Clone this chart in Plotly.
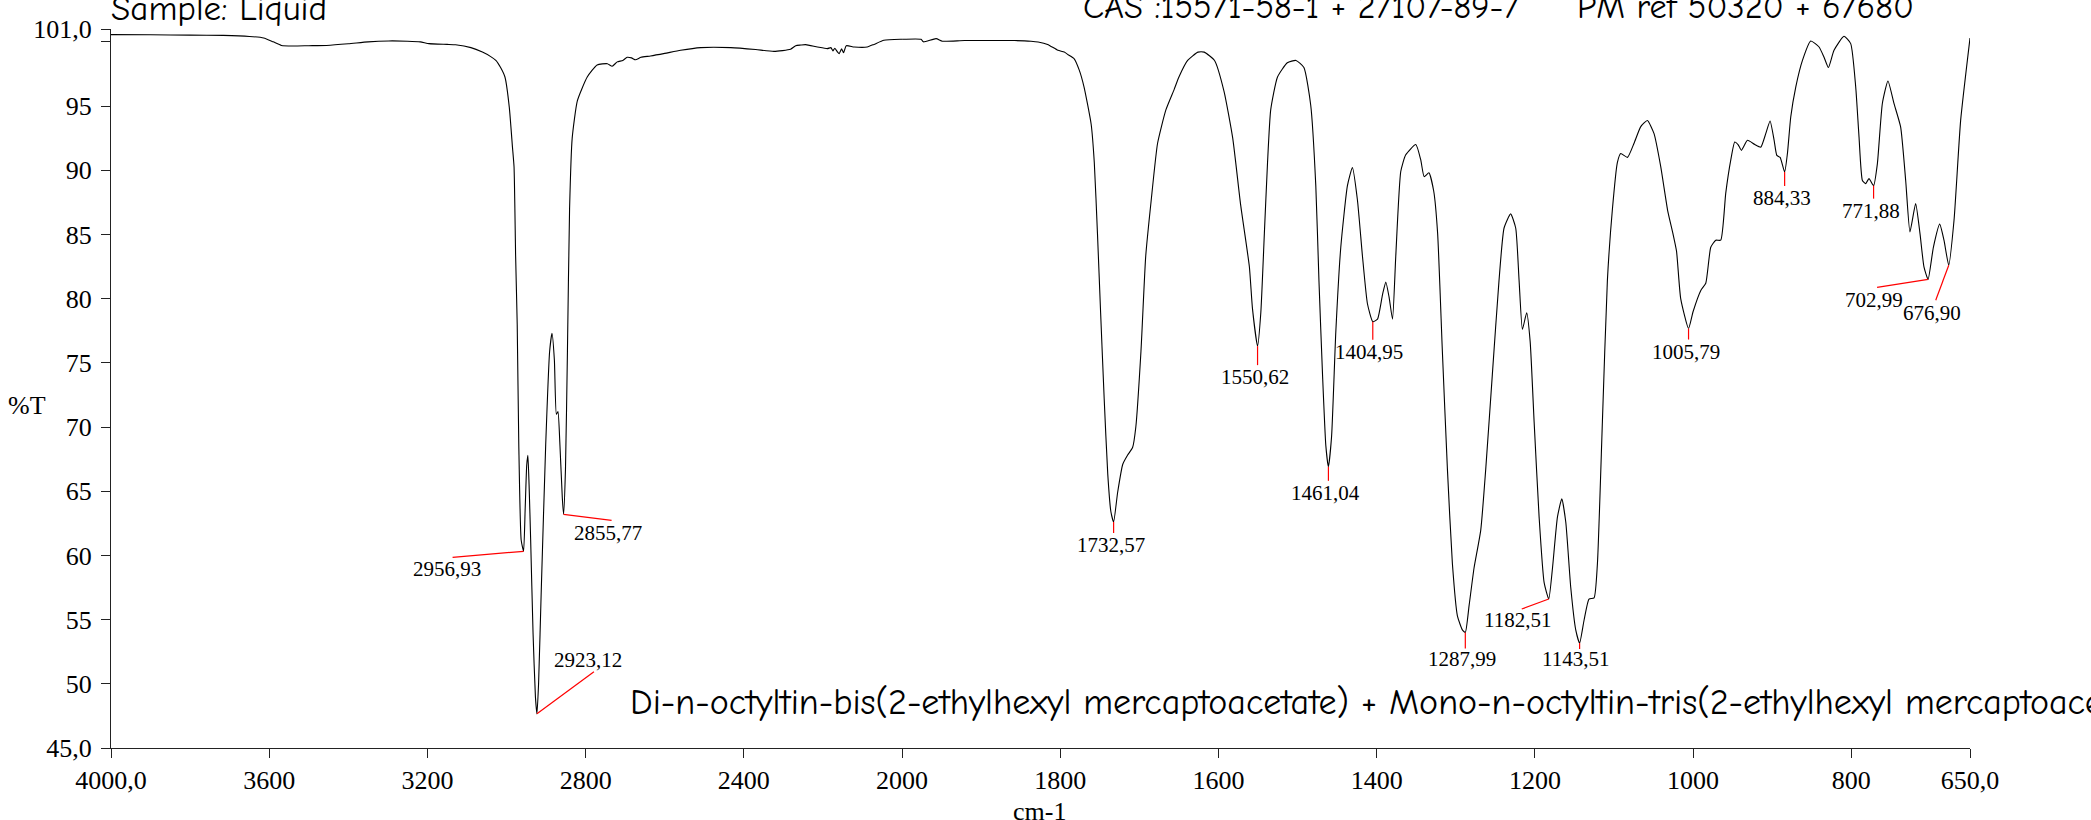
import plotly.graph_objects as go

# ---------------- data ----------------
wn_high = [4000, 3900, 3800, 3716, 3650, 3614, 3590, 3569, 3540, 3500, 3455, 3400, 3350, 3298,
           3250, 3218, 3196, 3150, 3129, 3090, 3061, 3040, 3027, 3015, 3004, 2993, 2985, 2981,
           2977, 2973, 2969, 2963, 2956.93, 2953, 2949, 2946, 2943, 2939, 2933, 2927, 2923.12,
           2919, 2912, 2901, 2891, 2885, 2879, 2874, 2870, 2865, 2859, 2855.77, 2851, 2846,
           2840.6, 2834, 2821, 2796, 2771, 2745, 2733, 2720, 2706, 2695, 2684, 2674, 2660, 2636,
           2600, 2560, 2509, 2433, 2370, 2324, 2282, 2269, 2256, 2244, 2214, 2189, 2180, 2175,
           2170, 2163, 2159, 2153, 2148, 2141, 2121, 2088, 2071, 2046, 2003, 2000]
t_high = [100.56, 100.55, 100.52, 100.5, 100.42, 100.3, 100.0, 99.72, 99.68, 99.7, 99.72, 99.85,
          100.0, 100.07, 100.05, 100.0, 99.86, 99.8, 99.77, 99.55, 99.2, 98.85, 98.56, 98.0, 97.26,
          94.9, 91.8, 90.25, 83.3, 78.0, 68.6, 61.2, 60.32, 63.5, 67.0, 67.8, 65.5, 61.2, 54.0,
          49.0, 47.66, 50.0, 57.5, 68.6, 75.9, 77.3, 75.2, 71.0, 71.2, 68.6, 64.5, 63.2, 66.7,
          75.9, 87.0, 92.5, 95.4, 97.26, 98.2, 98.3, 98.1, 98.44, 98.55, 98.8, 98.75, 98.6, 98.8,
          98.9, 99.1, 99.34, 99.55, 99.55, 99.4, 99.26, 99.42, 99.7, 99.75, 99.78, 99.6, 99.47,
          99.55, 99.3, 99.5, 99.2, 99.08, 99.45, 99.15, 99.7, 99.6, 99.6, 99.8, 100.12, 100.2, 100.2]

wn_low = [2000, 1976, 1973, 1957, 1949, 1921, 1858, 1837, 1828, 1816, 1803, 1795, 1790, 1782.6,
          1776, 1770, 1761, 1757, 1753, 1749, 1744.5, 1740, 1736, 1732.57, 1727.5, 1721, 1715,
          1708.6, 1704.5, 1698, 1692, 1685, 1677, 1666.5, 1656, 1650, 1639, 1626, 1618, 1605,
          1593, 1582, 1572, 1561, 1557, 1550.62, 1546.5, 1542, 1538, 1534, 1525.4, 1513, 1502,
          1492, 1483.4, 1477, 1473, 1468.5, 1464.3, 1461.04, 1457, 1451.7, 1445.4, 1437, 1430.7,
          1424.4, 1418, 1411.7, 1404.95, 1399, 1392.7, 1388.5, 1384.3, 1380, 1375.9, 1369.6,
          1363.3, 1350.6, 1344.3, 1340, 1334, 1328, 1323, 1317, 1310.6, 1304.3, 1298, 1291.7,
          1287.99, 1283.3, 1277, 1268.5, 1262.2, 1253.8, 1245.4, 1239, 1230.7, 1224.3, 1220,
          1215.8, 1210.4, 1206, 1201, 1194.7, 1188.4, 1182.51, 1177.8, 1171.5, 1166, 1161,
          1154.7, 1148.4, 1143.51, 1137.9, 1131.6, 1125.2, 1121, 1114.7, 1108.4, 1102, 1095.8,
          1091.5, 1083, 1074.7, 1066.2, 1057.8, 1049.4, 1041, 1032, 1026, 1021, 1015.7, 1005.79,
          1000, 990.3, 984, 977.7, 971.4, 965.1, 958.8, 952.4, 947.4, 943.2, 938.9, 931.3, 922,
          914.5, 908.2, 902.7, 897.6, 894.2, 890, 884.33, 880.8, 876.6, 870.2, 861.8, 851.3,
          840.8, 834.5, 829, 821.9, 809.3, 800.8, 794.5, 790.3, 786, 781.9, 777.7, 771.88, 767.1,
          760.8, 753.7, 746.1, 737.7, 731.3, 725.9, 718.7, 713.2, 708.2, 702.99, 696.3, 688.3,
          682.9, 676.9, 670.2, 661.8, 650]
t_low = [100.2, 100.2, 100.0, 100.25, 100.05, 100.1, 100.1, 100.05, 99.99, 99.8, 99.34, 99.2, 99.0,
         98.7, 97.8, 96.5, 93.6, 90.6, 85.1, 78.9, 72.2, 66.35, 63.4, 62.6, 64.9, 67.1, 67.8,
         68.4, 70.0, 75.9, 83.3, 87.7, 92.1, 94.7, 96.3, 97.26, 98.55, 99.2, 99.2, 98.55, 96.15,
         92.5, 87.3, 82.5, 79.2, 76.3, 78.9, 85.1, 90.6, 94.7, 97.26, 98.37, 98.55, 98.0, 95.06,
         88.8, 81.4, 74.1, 68.55, 66.9, 69.3, 77.4, 84.0, 88.8, 90.2, 87.7, 83.3, 79.6, 78.2,
         78.4, 80.3, 81.3, 80.1, 78.4, 83.3, 89.9, 91.2, 92.0, 90.8, 89.5, 89.8, 88.4, 85.1,
         75.9, 66.7, 59.35, 55.3, 54.2, 54.0, 56.05, 59.0, 61.95, 66.7, 74.1, 81.4, 85.5, 86.6,
         85.5, 81.4, 77.6, 78.9, 76.65, 70.4, 63.0, 57.9, 56.6, 59.0, 63.0, 64.4, 62.6, 57.5,
         54.2, 53.17, 54.95, 56.6, 56.7, 59.35, 70.4, 81.4, 87.0, 90.6, 91.3, 91.0, 92.1, 93.4,
         93.87, 92.85, 90.3, 86.8, 85.2, 83.7, 80.0, 77.67, 79.0, 80.64, 81.2, 84.0, 84.55,
         84.55, 88.2, 90.8, 92.2, 92.0, 91.55, 92.33, 92.0, 91.8, 92.85, 93.84, 92.33, 91.16,
         91.0, 89.86, 91.3, 94.15, 96.5, 98.56, 100.07, 99.6, 98.8, 98.0, 99.34, 100.43, 99.86,
         96.5, 92.6, 89.2, 88.96, 89.35, 88.8, 90.5, 95.2, 96.95, 95.2, 93.37, 89.2, 85.2, 87.4,
         85.06, 82.47, 81.5, 84.0, 85.8, 84.55, 82.6, 86.1, 93.9, 100.3]

peak_wn = [2956.93, 2923.12, 2855.77, 1732.57, 1550.62, 1461.04, 1404.95, 1287.99,
           1182.51, 1143.51, 1005.79, 884.33, 771.88, 702.99, 676.90]
peak_t = [60.32, 47.66, 63.2, 62.6, 76.3, 66.9, 78.2, 54.0, 56.6, 53.17, 77.67, 89.86,
          88.8, 81.5, 82.6]
peak_labels = ["2956,93", "2923,12", "2855,77", "1732,57", "1550,62", "1461,04", "1404,95",
               "1287,99", "1182,51", "1143,51", "1005,79", "884,33", "771,88", "702,99", "676,90"]

x_hi_ticks = [4000, 3600, 3200, 2800, 2400, 2000]
x_hi_text = ["4000,0", "3600", "3200", "2800", "2400", "2000"]
x_lo_ticks = [1800, 1600, 1400, 1200, 1000, 800, 650]
x_lo_text = ["1800", "1600", "1400", "1200", "1000", "800", "650,0"]
y_ticks = [45, 50, 55, 60, 65, 70, 75, 80, 85, 90, 95, 100, 101]
y_text = ["45,0", "50", "55", "60", "65", "70", "75", "80", "85", "90", "95", "", "101,0"]

title_top_left = "Sample: Liquid"
title_top_right = "CAS :15571-58-1 + 27107-89-7     PM ref 50320 + 67680"
title_bottom = ("Di-n-octyltin-bis(2-ethylhexyl mercaptoacetate) + "
                "Mono-n-octyltin-tris(2-ethylhexyl mercaptoacetate)")

# ---------------- layout / styles ----------------
# label placement (pixels): line end (dx, dy-up) and text centre (dx, dy-up)
label_offsets = [(-71, -6, -77, -18), (57, 42, 51, 54), (48, -6, 44, -19), (0, -11, -3, -23),
                 (0, -19, -3, -31), (0, -14, -3, -26), (0, -18, -4, -30), (0, -16, -3, -27),
                 (-27, -10, -31, -21), (0, -6, -4, -16), (0, -11, -3, -23), (0, -14, -3, -26),
                 (0, -13, -3, -25), (-51, -8, -54, -21), (-13, -35, -17, -48)]

W, H = 2091, 820
ML, MR, MT, MB = 111, 121, 29, 72
PW, PH = W - ML - MR, H - MT - MB
split = 2000 / 4700

def px(X):
    return (X - ML) / PW

def py(Y):
    return 1 - (Y - MT) / PH

SERIF = "Liberation Serif, Times New Roman, serif"
COMIC = "Comic Sans MS, Comic Neue, Noto Sans, sans-serif"

fig = go.Figure()
fig.add_trace(go.Scatter(x=wn_high, y=t_high, mode="lines", xaxis="x", yaxis="y",
                         line=dict(color="black", width=1.1, shape="spline", smoothing=0.5),
                         hoverinfo="skip", showlegend=False))
fig.add_trace(go.Scatter(x=wn_low, y=t_low, mode="lines", xaxis="x2", yaxis="y",
                         line=dict(color="black", width=1.1, shape="spline", smoothing=0.5),
                         hoverinfo="skip", showlegend=False))

shapes = []
annotations = []
for w, t, lab, off in zip(peak_wn, peak_t, peak_labels, label_offsets):
    xr = "x" if w > 2000 else "x2"
    ldx, ldy, tdx, tdy = off
    shapes.append(dict(type="line", xref=xr, yref="y", xsizemode="pixel", ysizemode="pixel",
                       xanchor=w, yanchor=t, x0=0, y0=0, x1=ldx, y1=ldy,
                       line=dict(color="red", width=1.2)))
    annotations.append(dict(x=w, y=t, xref=xr, yref="y", text=lab, showarrow=False,
                            xanchor="center", yanchor="middle", xshift=tdx, yshift=tdy,
                            font=dict(family=SERIF, size=21, color="black")))

annotations += [
    dict(x=px(109), y=py(21), xref="paper", yref="paper", text=title_top_left, showarrow=False,
         xanchor="left", yanchor="bottom", yshift=-10, font=dict(family=COMIC, size=35, color="black")),
    dict(x=px(1081), y=py(19), xref="paper", yref="paper", text=title_top_right, showarrow=False,
         xanchor="left", yanchor="bottom", yshift=-10, font=dict(family=COMIC, size=34.4, color="black")),
    dict(x=px(628), y=py(715), xref="paper", yref="paper", text=title_bottom, showarrow=False,
         xanchor="left", yanchor="bottom", yshift=-10, font=dict(family=COMIC, size=36, color="black")),
    dict(x=px(27), y=py(405), xref="paper", yref="paper", text="%T", showarrow=False,
         xanchor="center", yanchor="middle", font=dict(family=SERIF, size=26, color="black")),
    dict(x=px(1039), y=py(811), xref="paper", yref="paper", text="cm-1", showarrow=False,
         xanchor="center", yanchor="middle", font=dict(family=SERIF, size=26, color="black")),
]

axis_common = dict(showgrid=False, zeroline=False, showline=True, linecolor="#222", linewidth=1.2,
                   ticks="outside", ticklen=9, tickwidth=1.2, tickcolor="#222",
                   tickfont=dict(family=SERIF, size=26, color="black"), anchor="y")

fig.update_layout(
    width=W, height=H, margin=dict(l=ML, r=MR, t=MT, b=MB, pad=0),
    paper_bgcolor="white", plot_bgcolor="white", showlegend=False,
    xaxis=dict(domain=[0, split], range=[4000, 2000], tickmode="array",
               tickvals=x_hi_ticks, ticktext=x_hi_text, **axis_common),
    xaxis2=dict(domain=[split, 1], range=[2000, 650], tickmode="array",
                tickvals=x_lo_ticks, ticktext=x_lo_text, **axis_common),
    yaxis=dict(range=[45, 101], tickmode="array", tickvals=y_ticks, ticktext=y_text,
               showgrid=False, zeroline=False, showline=True, linecolor="#222", linewidth=1.2,
               ticks="outside", ticklen=9, tickwidth=1.2, tickcolor="#222", ticklabelstandoff=4,
               tickfont=dict(family=SERIF, size=26, color="black")),
    shapes=shapes, annotations=annotations,
)

fig.write_html("out.html", config={"displayModeBar": False},
               post_script="document.body.style.margin='0px';")
